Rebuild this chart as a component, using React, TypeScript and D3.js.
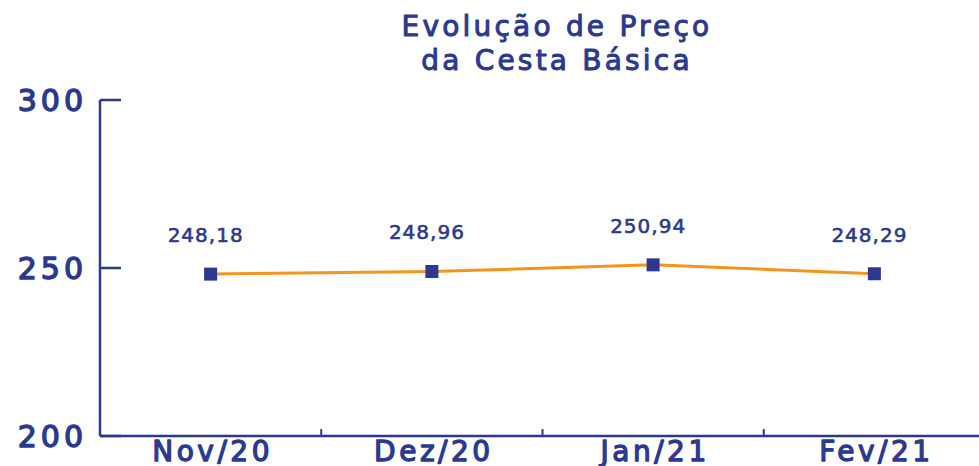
import * as d3 from 'd3';
import { useCallback } from 'react';

const title = ['Evolução de Preço', 'da Cesta Básica'];
const months = ['Nov/20', 'Dez/20', 'Jan/21', 'Fev/21'];
const prices = [248.18, 248.96, 250.94, 248.29];
const yTicks = [200, 250, 300];

const WIDTH = 979;
const HEIGHT = 466;
const navy = '#2b3990';
const orange = '#f7941d';
const font = '"DejaVu Sans", sans-serif';

const fmt = (v: number) => v.toFixed(2).replace('.', ',');

const App = () => {
  const draw = useCallback((ref: SVGSVGElement | null) => {
    if (!ref) return;
    const svg = d3.select(ref);
    svg.selectAll('*').remove();

    const x = d3.scaleBand<string>().domain(months).range([100, 985]).padding(0);
    const y = d3.scaleLinear().domain([200, 300]).range([436, 100]);
    const cx = (m: string) => (x(m) || 0) + x.bandwidth() / 2;

    // medium-weight look: book face with a thin outline
    const medium = (sel: d3.Selection<any, any, any, any>, size: number, sw: number, ls: number) =>
      sel
        .attr('fill', navy)
        .attr('stroke', navy)
        .attr('stroke-width', sw)
        .attr('stroke-linejoin', 'round')
        .attr('font-family', font)
        .attr('font-size', size)
        .attr('letter-spacing', ls);

    // title
    svg
      .append('g')
      .selectAll('text')
      .data(title)
      .join('text')
      .attr('x', 557)
      .attr('y', (_, i) => 36 + i * 34)
      .attr('text-anchor', 'middle')
      .call((s) => medium(s, 28, 1, 3.2))
      .text((d) => d);

    // y axis
    svg
      .append('line')
      .attr('x1', 100)
      .attr('x2', 100)
      .attr('y1', y(300))
      .attr('y2', y(200))
      .attr('stroke', navy)
      .attr('stroke-width', 2.5);

    const yg = svg.append('g');
    yg.selectAll('line')
      .data(yTicks)
      .join('line')
      .attr('x1', 100)
      .attr('x2', 121)
      .attr('y1', (d) => y(d))
      .attr('y2', (d) => y(d))
      .attr('stroke', navy)
      .attr('stroke-width', 2.5);
    yg.selectAll('text')
      .data(yTicks)
      .join('text')
      .attr('x', 87)
      .attr('y', (d) => y(d) + 11)
      .attr('text-anchor', 'end')
      .call((s) => medium(s, 30, 1.4, 4))
      .text((d) => d);

    // x axis
    svg
      .append('line')
      .attr('x1', 100)
      .attr('x2', WIDTH)
      .attr('y1', y(200))
      .attr('y2', y(200))
      .attr('stroke', navy)
      .attr('stroke-width', 2.5);

    const xg = svg.append('g');
    xg.selectAll('line')
      .data(months.slice(1))
      .join('line')
      .attr('x1', (d) => x(d) || 0)
      .attr('x2', (d) => x(d) || 0)
      .attr('y1', y(200))
      .attr('y2', y(200) - 7)
      .attr('stroke', navy)
      .attr('stroke-width', 2);
    xg.selectAll('text')
      .data(months)
      .join('text')
      .attr('x', (d) => cx(d) + 2)
      .attr('y', 461)
      .attr('text-anchor', 'middle')
      .call((s) => medium(s, 28, 1.3, 3.5))
      .text((d) => d);

    // line
    const pts = months.map((m, i) => ({ m, v: prices[i] }));
    const line = d3
      .line<{ m: string; v: number }>()
      .x((d) => cx(d.m))
      .y((d) => y(d.v));
    svg
      .append('path')
      .attr('d', line(pts))
      .attr('fill', 'none')
      .attr('stroke', orange)
      .attr('stroke-width', 3);

    const s = 13;
    svg
      .append('g')
      .selectAll('rect')
      .data(pts)
      .join('rect')
      .attr('x', (d) => cx(d.m) - s / 2)
      .attr('y', (d) => y(d.v) - s / 2)
      .attr('width', s)
      .attr('height', s)
      .attr('fill', navy);

    svg
      .append('g')
      .selectAll('text')
      .data(pts)
      .join('text')
      .attr('x', (d) => cx(d.m) - 5)
      .attr('y', (d) => y(d.v) - 32)
      .attr('text-anchor', 'middle')
      .call((sel) => medium(sel, 20, 0.6, 1))
      .text((d) => fmt(d.v));
  }, []);

  return (
    <div>
      <style>{`body { margin: 0; }`}</style>
      <svg width={WIDTH} height={HEIGHT} ref={draw} style={{ display: 'block', background: '#fff' }}></svg>
    </div>
  );
};

export default App;
